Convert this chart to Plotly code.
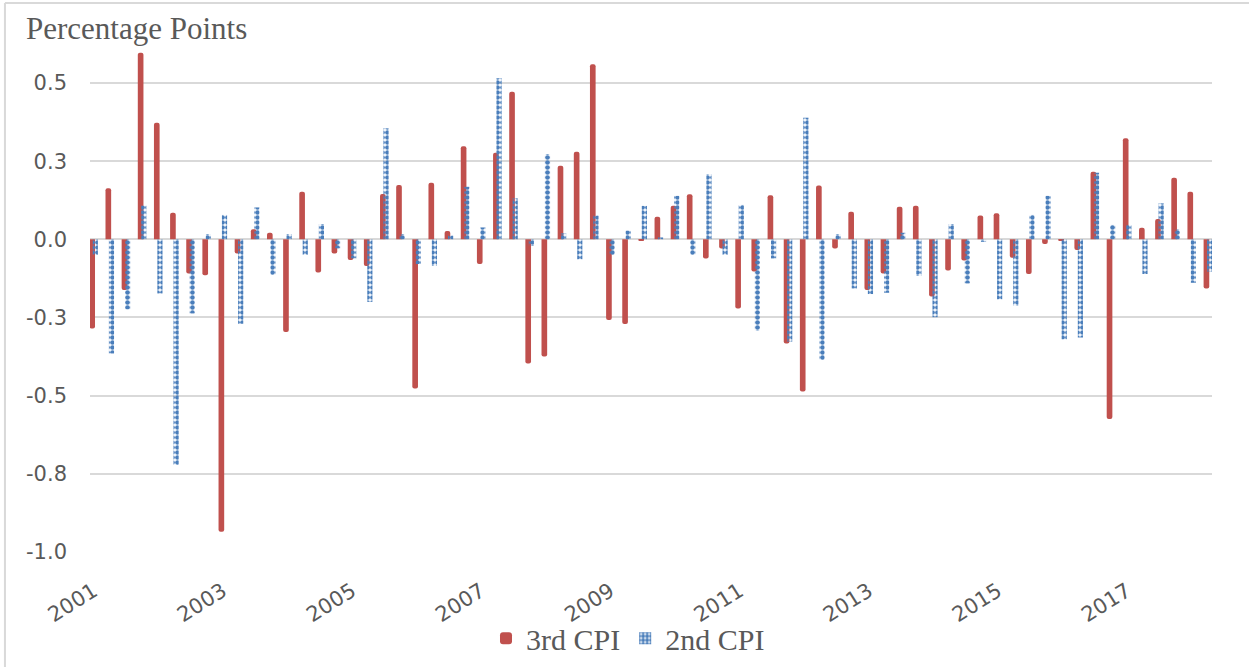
import plotly.graph_objects as go

years = list(range(2001, 2019))
quarters = [f"{y}Q{q}" for y in years for q in range(1, 5)][:70]

cpi_3rd = [-0.285, 0.163, -0.162, 0.597, 0.373, 0.085, -0.109, -0.115, -0.935, -0.045,
           0.032, 0.021, -0.296, 0.152, -0.106, -0.045, -0.066, -0.085, 0.145, 0.174,
           -0.477, 0.181, 0.027, 0.298, -0.079, 0.277, 0.472, -0.397, -0.375, 0.235,
           0.280, 0.560, -0.258, -0.271, -0.005, 0.072, 0.107, 0.144, -0.061, -0.029,
           -0.221, -0.103, 0.141, -0.333, -0.487, 0.172, -0.029, 0.088, -0.162, -0.109,
           0.104, 0.107, -0.183, -0.100, -0.068, 0.076, 0.083, -0.059, -0.111, -0.015,
           -0.005, -0.034, 0.216, -0.575, 0.323, 0.037, 0.065, 0.197, 0.152, -0.157]

cpi_2nd = [-0.050, -0.365, -0.224, 0.108, -0.173, -0.722, -0.237, 0.017, 0.078, -0.270,
           0.102, -0.114, 0.017, -0.050, 0.049, -0.029, -0.061, -0.200, 0.355, 0.017,
           -0.079, -0.085, 0.012, 0.168, 0.038, 0.515, 0.131, -0.021, 0.273, 0.019,
           -0.064, 0.076, -0.050, 0.028, 0.107, 0.006, 0.139, -0.050, 0.208, -0.050,
           0.110, -0.292, -0.061, -0.327, 0.389, -0.386, 0.017, -0.157, -0.175, -0.171,
           0.021, -0.117, -0.249, 0.049, -0.141, -0.008, -0.192, -0.212, 0.078, 0.139,
           -0.320, -0.314, 0.213, 0.046, 0.046, -0.111, 0.115, 0.032, -0.139, -0.103]

year_ticks = [f"{y}Q1" for y in range(2001, 2019, 2)]
year_labels = [str(y) for y in range(2001, 2019, 2)]
y_ticks = [0.5, 0.25, 0.0, -0.25, -0.5, -0.75, -1.0]
y_labels = ["0.5", "0.3", "0.0", "-0.3", "-0.5", "-0.8", "-1.0"]

RED = "#C0504D"
BLUE = "#4A7EBB"
GREY_TXT = "#595959"
GRID = "#D9D9D9"

fig = go.Figure()
fig.add_trace(go.Bar(
    x=quarters, y=cpi_3rd, name="3rd CPI",
    marker=dict(color=RED, line=dict(width=0), cornerradius=2),
    width=0.35, offset=-0.26,
))
fig.add_trace(go.Bar(
    x=quarters, y=cpi_2nd, name="2nd CPI",
    marker=dict(color="rgba(0,0,0,0)", line=dict(width=0),
                pattern=dict(shape=".", fgcolor=BLUE, bgcolor="rgba(0,0,0,0)",
                             size=5, solidity=0.7, fgopacity=1, fillmode="overlay")),
    width=0.32, offset=-0.05,
))

fig.update_layout(
    width=1249, height=667,
    margin=dict(l=90, r=37, t=45, b=115, autoexpand=False),
    paper_bgcolor="white", plot_bgcolor="white",
    barmode="overlay",
    showlegend=True,
    legend=dict(orientation="h", x=0.4795, xanchor="center", y=-0.17, yanchor="middle",
                bgcolor="rgba(0,0,0,0)",
                font=dict(family="Liberation Serif", size=30, color=GREY_TXT),
                traceorder="normal", itemwidth=30),
    xaxis=dict(type="category", range=[-0.22, 69.26], automargin=False,
               tickmode="array", tickvals=year_ticks, ticktext=year_labels,
               tickangle=-32, ticks="", showgrid=False, showline=False,
               ticklabelstandoff=22, ticklabelshift=0,
               tickfont=dict(family="DejaVu Sans", size=21, color=GREY_TXT)),
    yaxis=dict(range=[-1.0, 0.6215], tickmode="array", tickvals=y_ticks, ticktext=y_labels,
               automargin=False,
               showgrid=True, gridcolor=GRID, gridwidth=1.5,
               zeroline=True, zerolinecolor=GRID, zerolinewidth=1.5,
               showline=False, ticks="", ticklabelstandoff=22,
               tickfont=dict(family="DejaVu Sans", size=21, color=GREY_TXT)),
    annotations=[dict(text="Percentage Points", xref="paper", yref="paper",
                      x=-0.0585, y=1.0335, xanchor="left", yanchor="middle", showarrow=False,
                      font=dict(family="Liberation Serif", size=31, color=GREY_TXT))],
    shapes=[
        dict(type="line", xref="paper", yref="paper", x0=-0.0758, x1=1.2, y0=1.083, y1=1.083,
             line=dict(color=GRID, width=2)),
        dict(type="line", xref="paper", yref="paper", x0=-0.0758, x1=-0.0758, y0=-0.4, y1=1.083,
             line=dict(color=GRID, width=2)),
    ],
)

fig.write_html("out.html", config={"displayModeBar": False},
               post_script="document.body.style.margin='0';")
